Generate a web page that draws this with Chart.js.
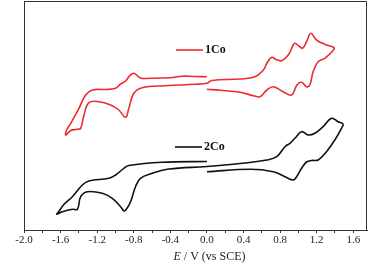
<!DOCTYPE html>
<html>
<head>
<meta charset="utf-8">
<script src="https://cdn.jsdelivr.net/npm/chart.js@4"></script>
<style>
  html, body { margin: 0; padding: 0; background: #fff; }
  #wrap { width: 377px; height: 271px; }
</style>
</head>
<body>
<div id="wrap"><canvas id="cv" width="377" height="271"></canvas></div>
<script>
// 1Co cyclic voltammogram (potential in V vs SCE, current in arbitrary offset units)
const co1Potential = [0.00, -0.127, -0.272, -0.40, -0.618, -0.727, -0.80, -0.846, -0.89, -0.944, -0.999, -1.108, -1.253, -1.326, -1.399, -1.489, -1.533, -1.544,
  -1.489, -1.416, -1.38, -1.344, -1.29, -1.181, -1.053, -0.963, -0.89, -0.854, -0.80, -0.708, -0.454, -0.127, 0.0,
  0.054, 0.363, 0.526, 0.617, 0.657, 0.708, 0.755, 0.817, 0.889, 0.943, 0.962, 1.005, 1.046, 1.089, 1.136, 1.198, 1.307, 1.39,
  1.379, 1.289, 1.216, 1.161, 1.125, 1.089, 1.035, 0.984, 0.926, 0.834, 0.725, 0.654, 0.581, 0.508, 0.363, 0.145, 0.0];
const co1Current = [153.3, 153.5, 153.8, 152.2, 151.7, 152, 156.7, 154, 149, 146, 141.7, 140.5, 140, 135, 121.7, 106.7, 100, 95,
  99.5, 100.7, 101.7, 115, 127.3, 128.3, 125, 120, 112.7, 121.7, 136.7, 142.3, 144.3, 145.7, 146.7,
  149.5, 151, 153.3, 160, 167, 172.7, 170.5, 169.3, 175, 185, 186.7, 184, 181.7, 188.3, 196.7, 190, 185, 182.3,
  179.5, 171.7, 168.3, 158.3, 145, 143.3, 147.7, 145, 135, 138.3, 143.3, 140, 133.3, 134.3, 137.7, 139.7, 140.7];

// 2Co cyclic voltammogram
const co2Potential = [0.0, -0.49, -0.854, -0.908, -0.999, -1.072, -1.29, -1.362, -1.471, -1.562, -1.623, -1.642,
  -1.58, -1.471, -1.416, -1.38, -1.307, -1.144, -1.035, -0.944, -0.906, -0.879, -0.835, -0.781, -0.727, -0.599, -0.418, 0.0,
  0.363, 0.654, 0.763, 0.853, 0.907, 0.962, 1.035, 1.107, 1.18, 1.27, 1.362, 1.434, 1.488,
  1.471, 1.398, 1.307, 1.216, 1.144, 1.089, 1.035, 0.98, 0.943, 0.853, 0.725, 0.472, 0.0];
const co2Current = [68.5, 67.7, 64.5, 61.7, 55, 51.7, 49, 45, 33.3, 25.7, 18, 15.7,
  18.3, 20.7, 20.7, 33.3, 38.3, 36.7, 31.7, 23.3, 19, 21, 28.3, 43.3, 51.7, 56.7, 61, 63.5,
  66.5, 70, 73.3, 83.3, 86.7, 91.7, 98.3, 95, 96.7, 103.3, 111.7, 108.3, 106,
  101.7, 90, 78.3, 70, 69.5, 68, 61.7, 53.3, 50, 53.3, 58.3, 60.7, 58.3];

const xTickLabels = ["-2.0", "-1.6", "-1.2", "-0.8", "-0.4", "0.0", "0.4", "0.8", "1.2", "1.6"];
const seriesNames = ["1Co", "2Co"];
const seriesColors = ["#ee2a2e", "#111111"];

function toPoints(xs, ys) {
  return xs.map((x, i) => ({ x: x, y: ys[i] }));
}

const serif = "'Liberation Serif', 'Times New Roman', serif";
const axisColor = "#333";

// frame, legend and axis title
const decor = {
  id: "decor",
  afterDraw(chart) {
    const ctx = chart.ctx;
    const a = chart.chartArea;
    ctx.save();
    ctx.strokeStyle = axisColor;
    ctx.lineWidth = 1;
    ctx.beginPath();
    ctx.moveTo(a.left, a.top + 0.5);
    ctx.lineTo(a.right - 0.5, a.top + 0.5);
    ctx.lineTo(a.right - 0.5, a.bottom);
    ctx.stroke();

    // legend entries inside the plot
    const legendPos = [[176, 50], [175, 147]];
    seriesNames.forEach((name, i) => {
      const [lx, ly] = legendPos[i];
      ctx.strokeStyle = seriesColors[i];
      ctx.lineWidth = 1.6;
      ctx.beginPath();
      ctx.moveTo(lx, ly);
      ctx.lineTo(lx + 27, ly);
      ctx.stroke();
      ctx.fillStyle = "#111";
      ctx.font = "bold 12px " + serif;
      ctx.textBaseline = "middle";
      ctx.textAlign = "left";
      ctx.fillText(name, lx + 29, ly);
    });

    // x axis title with italic E
    ctx.fillStyle = "#222";
    ctx.textBaseline = "middle";
    ctx.font = "italic 12px " + serif;
    const eW = ctx.measureText("E").width;
    ctx.font = "12px " + serif;
    const rest = " / V (vs SCE)";
    const rW = ctx.measureText(rest).width;
    const cx = (a.left + a.right) / 2 + 14;
    const x0 = cx - (eW + rW) / 2;
    ctx.font = "italic 12px " + serif;
    ctx.fillText("E", x0, 257);
    ctx.font = "12px " + serif;
    ctx.fillText(rest, x0 + eW, 257);
    ctx.restore();
  }
};

new Chart(document.getElementById("cv"), {
  type: "scatter",
  data: {
    datasets: [
      {
        label: seriesNames[0],
        data: toPoints(co1Potential, co1Current),
        showLine: true,
        borderColor: seriesColors[0],
        borderWidth: 1.6,
        pointRadius: 0,
        tension: 0.4
      },
      {
        label: seriesNames[1],
        data: toPoints(co2Potential, co2Current),
        showLine: true,
        borderColor: seriesColors[1],
        borderWidth: 1.6,
        pointRadius: 0,
        tension: 0.4
      }
    ]
  },
  options: {
    responsive: false,
    animation: false,
    layout: { padding: { left: 24, right: 10, top: 1, bottom: 0 } },
    plugins: {
      legend: { display: false },
      tooltip: { enabled: false }
    },
    scales: {
      x: {
        type: "linear",
        min: -2.0,
        max: 1.75,
        afterFit: s => { s.height = 41; },
        border: { display: true, color: axisColor, width: 1 },
        grid: { drawOnChartArea: false, drawTicks: true, tickLength: 3, color: axisColor },
        ticks: {
          stepSize: 0.2,
          includeBounds: false,
          autoSkip: false,
          maxRotation: 0,
          padding: 1,
          color: "#222",
          font: { family: serif, size: 11 },
          callback: v => {
            const k = Math.round(v * 10);
            if (k % 4 !== 0) return "";
            return xTickLabels[(k + 20) / 4];
          }
        }
      },
      y: {
        min: 0,
        max: 229,
        afterFit: s => { s.width = 0; },
        border: { display: true, color: axisColor, width: 1 },
        grid: { display: false },
        ticks: { display: false }
      }
    }
  },
  plugins: [decor]
});
</script>
</body>
</html>
